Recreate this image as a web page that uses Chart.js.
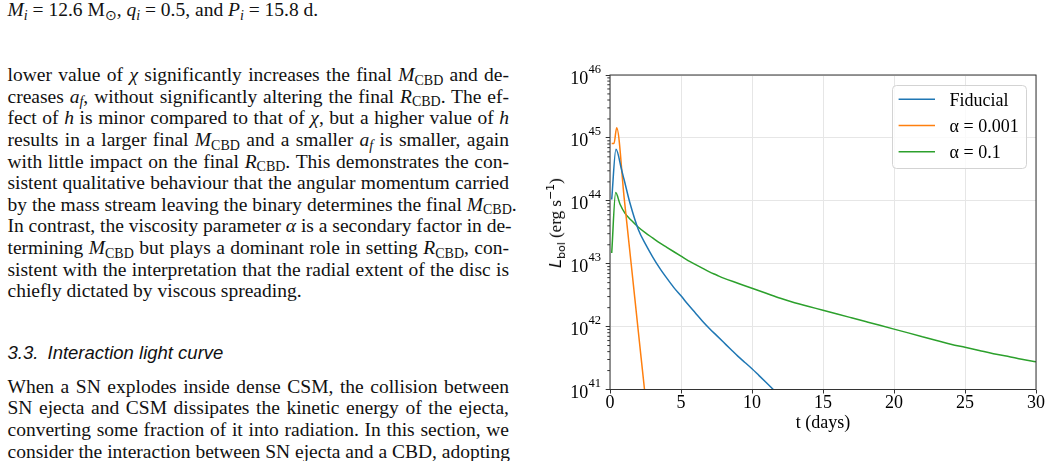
<!DOCTYPE html>
<html><head><meta charset="utf-8">
<script src="https://cdn.jsdelivr.net/npm/chart.js@4.4.1/dist/chart.umd.min.js"></script>
<style>
html,body{margin:0;padding:0;background:#fff;}
body{width:1050px;height:461px;overflow:hidden;position:relative;font-family:"Liberation Serif","Times New Roman",serif;color:#111;}
.blk{position:absolute;left:7.5px;width:501.5px;font-size:19.5px;}
.ln{height:21.6px;line-height:21.6px;white-space:nowrap;text-align:justify;text-align-last:justify;}
.ln.left{text-align:left;text-align-last:left;}
.sb{font-size:14px;position:relative;top:3.5px;line-height:0;font-style:inherit;}
#head{position:absolute;left:7.5px;top:342px;font-family:"Liberation Sans",Arial,sans-serif;font-style:italic;font-size:18.5px;line-height:21.6px;white-space:nowrap;color:#111;}
#chartwrap{position:absolute;left:540px;top:60px;width:510px;height:380px;}
#ytitle{position:absolute;left:557px;top:223px;transform:translate(-50%,-50%) rotate(-90deg);white-space:nowrap;font-family:"Liberation Serif",serif;font-size:17px;font-weight:normal;line-height:20px;color:#000;}
#ytitle .L{font-family:"DejaVu Sans",sans-serif;font-style:oblique;font-size:16px;}
#ytitle .bol{font-family:"DejaVu Sans",sans-serif;font-size:11px;position:relative;top:4px;}
#ytitle .up{font-family:"DejaVu Sans",sans-serif;font-size:11px;position:relative;top:-7px;}
</style>
</head>
<body>
<div class="blk" style="top:-1px">
  <div class="ln left"><i>M<span class="sb">i</span></i> = 12.6 M<span class="sb">⊙</span>, <i>q<span class="sb">i</span></i> = 0.5, and <i>P<span class="sb">i</span></i> = 15.8 d.</div>
</div>

<div class="blk" style="top:64.3px">
  <div class="ln">lower value of <i>χ</i> significantly increases the final <i>M</i><span class="sb">CBD</span> and de-</div>
  <div class="ln">creases <i>a<span class="sb">f</span></i>, without significantly altering the final <i>R</i><span class="sb">CBD</span>. The ef-</div>
  <div class="ln">fect of <i>h</i> is minor compared to that of <i>χ</i>, but a higher value of <i>h</i></div>
  <div class="ln">results in a larger final <i>M</i><span class="sb">CBD</span> and a smaller <i>a<span class="sb">f</span></i> is smaller, again</div>
  <div class="ln">with little impact on the final <i>R</i><span class="sb">CBD</span>. This demonstrates the con-</div>
  <div class="ln">sistent qualitative behaviour that the angular momentum carried</div>
  <div class="ln">by the mass stream leaving the binary determines the final <i>M</i><span class="sb">CBD</span>.</div>
  <div class="ln">In contrast, the viscosity parameter <i>α</i> is a secondary factor in de-</div>
  <div class="ln">termining <i>M</i><span class="sb">CBD</span> but plays a dominant role in setting <i>R</i><span class="sb">CBD</span>, con-</div>
  <div class="ln">sistent with the interpretation that the radial extent of the disc is</div>
  <div class="ln left">chiefly dictated by viscous spreading.</div>
</div>

<div id="head">3.3.<span style="margin-left:4px"> Interaction light curve</span></div>

<div class="blk" style="top:375.9px">
  <div class="ln">When a SN explodes inside dense CSM, the collision between</div>
  <div class="ln">SN ejecta and CSM dissipates the kinetic energy of the ejecta,</div>
  <div class="ln">converting some fraction of it into radiation. In this section, we</div>
  <div class="ln">consider the interaction between SN ejecta and a CBD, adopting</div>
</div>

<div id="chartwrap"><canvas id="c" width="510" height="380"></canvas></div>
<div id="ytitle"><span class="L">L</span><span class="bol">bol</span> (erg s<span class="up">−1</span>)</div>

<script>
// ---- data (t in days, log10 of L_bol in erg/s) ----
const seriesLabels = ['Fiducial', 'α = 0.001', 'α = 0.1'];
const xTickValues = [0, 5, 10, 15, 20, 25, 30];
const yTickExponents = [41, 42, 43, 44, 45, 46];
const yMinorMultipliers = [2, 3, 4, 5, 6, 7, 8, 9];

const fiducialTime = [0.12, 0.42, 0.82, 1.0, 1.41, 2.0, 2.5, 3.0, 3.5, 4.0, 4.5, 5.0, 5.5, 6.0, 6.5, 7.0, 7.5, 8.0, 8.5, 9.0, 9.5, 10.0, 10.5, 11.0, 11.5, 12.0];
const fiducialLogL = [44.02, 44.82, 44.49, 44.33, 43.96, 43.54, 43.31, 43.11, 42.93, 42.77, 42.62, 42.49, 42.35, 42.22, 42.09, 41.97, 41.86, 41.75, 41.64, 41.53, 41.43, 41.33, 41.22, 41.11, 41.00, 40.89];

const alpha001Time = [0.12, 0.28, 0.47, 1.0, 1.5, 2.0, 2.43, 2.8];
const alpha001LogL = [44.91, 44.91, 45.16, 44.04, 42.98, 41.91, 41.00, 40.20];

const alpha01Time = [0.12, 0.40, 0.7, 1.06, 1.5, 2.0, 2.5, 3.0, 3.5, 4.0, 4.5, 5.0, 5.5, 6.0, 6.5, 7.0, 7.5, 8.0,
  9, 10, 11, 12, 13, 14, 15, 16, 17, 18, 19, 20, 21, 22, 23, 24, 25, 26, 27, 28, 29, 30];
const alpha01LogL = [43.17, 44.13, 43.95, 43.80, 43.69, 43.58, 43.49, 43.41, 43.33, 43.26, 43.19, 43.12, 43.05, 42.99, 42.93, 42.87, 42.82, 42.77,
  42.69, 42.61, 42.53, 42.45, 42.38, 42.32, 42.26, 42.20, 42.14, 42.08, 42.02, 41.96, 41.90, 41.84, 41.78, 41.72, 41.67, 41.62, 41.57, 41.53, 41.48, 41.44];

const seriesColors = ['#1f77b4', '#ff7f0e', '#2ca02c'];

function toPoints(ts, logs) { return ts.map((t, i) => ({ x: t, y: Math.pow(10, logs[i]) })); }

const SERIF = '"Liberation Serif", "Times New Roman", serif';

const framePlugin = {
  id: 'frame',
  afterDatasetsDraw(chart) {
    const { ctx, chartArea: a, scales } = chart;
    const y = scales.y;
    ctx.save();
    ctx.strokeStyle = '#333';
    ctx.lineWidth = 1;
    ctx.beginPath();
    yTickExponents.slice(0, -1).forEach(e => {
      yMinorMultipliers.forEach(m => {
        const py = y.getPixelForValue(m * Math.pow(10, e));
        ctx.moveTo(a.left - 2.7, py);
        ctx.lineTo(a.left, py);
      });
    });
    ctx.stroke();
    ctx.strokeRect(a.left, a.top, a.right - a.left, a.bottom - a.top);
    ctx.restore();
  }
};

const yLabelPlugin = {
  id: 'yLabels',
  afterDraw(chart) {
    const s = chart.scales.y;
    const ctx = chart.ctx;
    ctx.save();
    ctx.fillStyle = '#000';
    ctx.textBaseline = 'alphabetic';
    yTickExponents.forEach(e => {
      const py = s.getPixelForValue(Math.pow(10, e));
      const right = s.right - 9;
      const ex = String(e);
      ctx.font = '12.5px ' + SERIF;
      const ew = ctx.measureText(ex).width;
      ctx.textAlign = 'left';
      ctx.fillText(ex, right - ew, py - 2.5);
      ctx.font = '18px ' + SERIF;
      ctx.textAlign = 'right';
      ctx.fillText('10', right - ew - 0.3, py + 8.5);
    });
    ctx.restore();
  }
};

const legendPlugin = {
  id: 'boxLegend',
  afterDraw(chart) {
    const { ctx, chartArea: a } = chart;
    const w = 134, h = 83;
    const x0 = a.right - 10 - w, y0 = a.top + 10;
    ctx.save();
    ctx.beginPath();
    ctx.roundRect(x0 + 0.5, y0 + 0.5, w, h, 4);
    ctx.fillStyle = 'rgba(255,255,255,0.8)';
    ctx.fill();
    ctx.strokeStyle = '#d3d3d3';
    ctx.lineWidth = 1;
    ctx.stroke();
    chart.data.datasets.forEach((ds, i) => {
      const yy = y0 + 14.3 + i * 26.2;
      ctx.strokeStyle = ds.borderColor;
      ctx.lineWidth = 1.5;
      ctx.beginPath();
      ctx.moveTo(x0 + 6.6, yy);
      ctx.lineTo(x0 + 43, yy);
      ctx.stroke();
      ctx.fillStyle = '#000';
      ctx.font = '18px ' + SERIF;
      ctx.textAlign = 'left';
      ctx.textBaseline = 'alphabetic';
      ctx.fillText(ds.label, x0 + 57.6, yy + 6.3);
    });
    ctx.restore();
  }
};

new Chart(document.getElementById('c'), {
  type: 'line',
  data: {
    datasets: [
      { label: seriesLabels[0], data: toPoints(fiducialTime, fiducialLogL), borderColor: seriesColors[0] },
      { label: seriesLabels[1], data: toPoints(alpha001Time, alpha001LogL), borderColor: seriesColors[1] },
      { label: seriesLabels[2], data: toPoints(alpha01Time, alpha01LogL), borderColor: seriesColors[2] }
    ].map(d => Object.assign(d, { borderWidth: 1.5, pointRadius: 0, fill: false, cubicInterpolationMode: 'monotone' }))
  },
  options: {
    responsive: false,
    animation: false,
    layout: { padding: { left: 0, right: 14, top: 15, bottom: 0 } },
    plugins: { legend: { display: false }, tooltip: { enabled: false } },
    scales: {
      x: {
        type: 'linear', min: 0, max: 30,
        afterBuildTicks: s => { s.ticks = xTickValues.map(v => ({ value: v })); },
        afterFit: s => { s.height = 50.5; },
        ticks: { font: { family: SERIF, size: 18 }, color: '#000', padding: -1, maxRotation: 0, autoSkip: false },
        grid: { color: '#e6e6e6', lineWidth: 1, drawTicks: true, tickLength: 4, tickColor: '#333', tickWidth: 1 },
        border: { display: false },
        title: { display: true, text: 't (days)', font: { family: SERIF, size: 18 }, color: '#000', padding: { top: 0, bottom: 5.8 } }
      },
      y: {
        type: 'logarithmic', min: 1e41, max: 1e46,
        afterBuildTicks: s => { s.ticks = yTickExponents.map(e => ({ value: Math.pow(10, e), major: true })); },
        afterFit: s => { s.width = 70; },
        ticks: { display: false },
        grid: { color: '#e6e6e6', lineWidth: 1, drawTicks: true, tickLength: 4.3, tickColor: '#333', tickWidth: 1 },
        border: { display: false }
      }
    }
  },
  plugins: [framePlugin, yLabelPlugin, legendPlugin]
});
</script>
</body></html>
